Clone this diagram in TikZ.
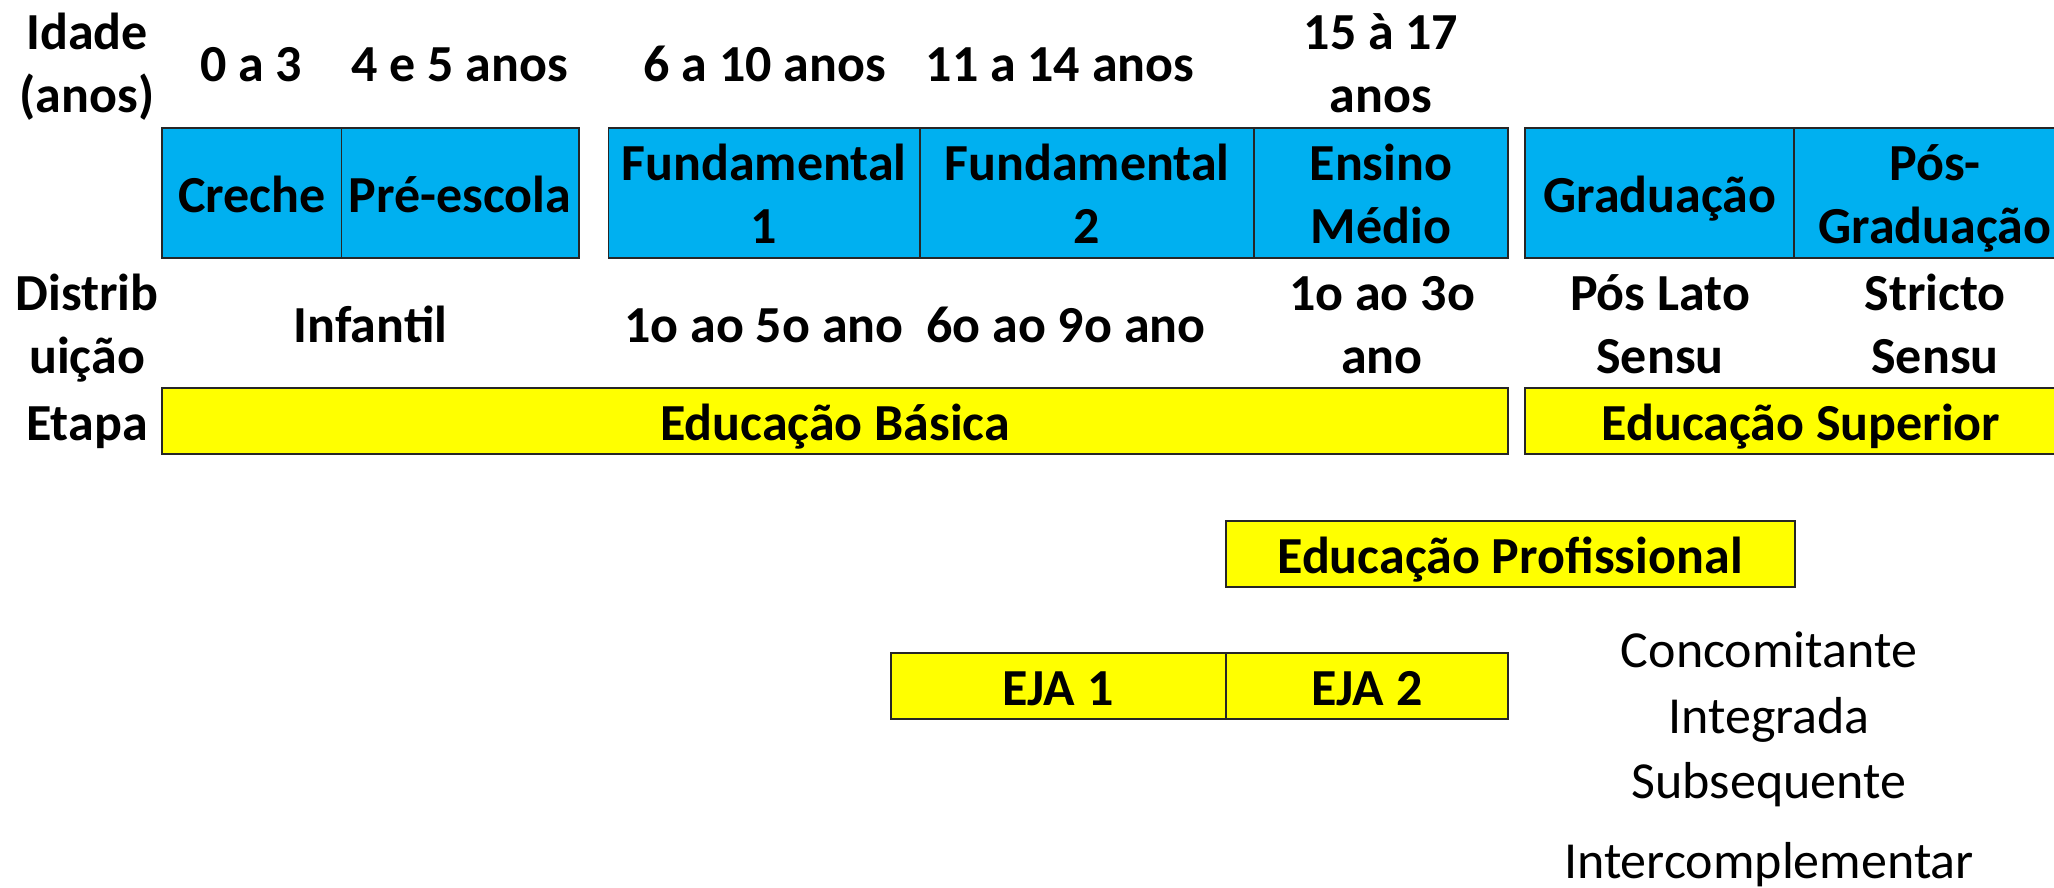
\documentclass[tikz,border=0pt]{standalone}
\usepackage{fontspec}
\setmainfont{Carlito}
\definecolor{cblue}{HTML}{00B0F0}
\definecolor{cyel}{HTML}{FFFF00}
\begin{document}
\begin{tikzpicture}[x=1pt,y=-1pt,
  cell/.style={draw=black!85, line width=1.5pt, inner sep=0pt, outer sep=0pt},
  bluecell/.style={cell, fill=cblue, minimum height=130pt},
  yelcell/.style={cell, fill=cyel, minimum height=66pt},
  lab/.style={font=\fontsize{52}{63}\selectfont\bfseries, align=center, inner sep=0pt, anchor=base},
  plain/.style={font=\fontsize{52}{63}\selectfont, align=center, inner sep=0pt, anchor=base}]
\clip (0,0) rectangle (2054,888);
% blue row
\node[bluecell, minimum width=179.5pt] (creche) at (251.75,193) {};
\node[bluecell, minimum width=237.5pt] (pre) at (460.25,193) {};
\node[bluecell, minimum width=311.5pt] (fund1) at (764.25,193) {};
\node[bluecell, minimum width=334pt] (fund2) at (1087,193) {};
\node[bluecell, minimum width=254pt] (medio) at (1381,193) {};
\node[bluecell, minimum width=269pt] (grad) at (1659.5,193) {};
\node[bluecell, minimum width=283pt] (posgrad) at (1935.5,193) {};
% yellow boxes
\node[yelcell, minimum width=1346pt] (basica) at (835,421) {};
\node[yelcell, minimum width=552pt] (superior) at (1801,421) {};
\node[yelcell, minimum width=569pt] (prof) at (1510.5,554) {};
\node[yelcell, minimum width=335pt] (eja1) at (1058.5,686) {};
\node[yelcell, minimum width=282pt] (eja2) at (1367,686) {};
% row headers (two-line nodes: base = last line's baseline)
\node[lab] (tidade) at (87,113) {Idade\\(anos)};
\node[lab] (tdistrib) at (87,373) {Distrib\\uição};
\node[lab] (tetapa) at (87,440) {Etapa};
% ages
\node[lab] (ta03) at (251,82) {0 a 3};
\node[lab] (ta45) at (460,82) {4 e 5 anos};
\node[lab] (ta610) at (765,82) {6 a 10 anos};
\node[lab] (ta1114) at (1060,82) {11 a 14 anos};
\node[lab] (ta1517) at (1381,113) {15 à 17\\anos};
% blue labels
\node[lab] (tcreche) at (252,212) {Creche};
\node[lab] (tpre) at (460,212) {Pré-escola};
\node[lab] (tfund1) at (764,243) {Fundamental\\1};
\node[lab] (tfund2) at (1087,243) {Fundamental\\2};
\node[lab] (tmedio) at (1381,243) {Ensino\\Médio};
\node[lab] (tgrad) at (1660,212) {Graduação};
\node[lab] (tposgrad) at (1935,243) {Pós-\\Graduação};
% distribution
\node[lab] (tinfantil) at (370.5,342) {Infantil};
\node[lab] (tano15) at (764,342) {1o ao 5o ano};
\node[lab] (tano69) at (1066,342) {6o ao 9o ano};
\node[lab] (tano13) at (1382,373) {1o ao 3o\\ano};
\node[lab] (tlato) at (1660,373) {Pós Lato\\Sensu};
\node[lab] (tstricto) at (1935,373) {Stricto\\Sensu};
% stages
\node[lab] (tbasica) at (835,440) {Educação Básica};
\node[lab] (tsuperior) at (1801,440) {Educação Superior};
\node[lab] (tprof) at (1510,573) {Educação Profissional};
\node[lab] (teja1) at (1058,705) {EJA 1};
\node[lab] (teja2) at (1367,705) {EJA 2};
% modalities
\node[plain] (tconc) at (1769,667) {Concomitante};
\node[plain] (tinteg) at (1769,733) {Integrada};
\node[plain] (tsubs) at (1769,798) {Subsequente};
\node[plain] (tinter) at (1769,878) {Intercomplementar};
\end{tikzpicture}
\end{document}
